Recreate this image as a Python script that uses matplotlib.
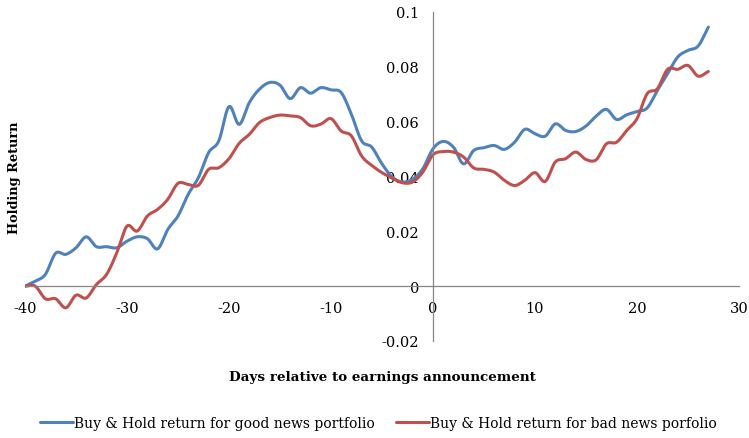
import numpy as np
import matplotlib
matplotlib.use("Agg")
import matplotlib.pyplot as plt

days = list(range(-40, 28))
good_news = [0.0, 0.0018, 0.0043, 0.012, 0.0116, 0.014, 0.018, 0.0144, 0.0144, 0.014,
             0.0164, 0.018, 0.0173, 0.0136, 0.0207, 0.0256, 0.0335, 0.0396, 0.0487, 0.053,
             0.0655, 0.059, 0.067, 0.0719, 0.0743, 0.0733, 0.0684, 0.0724, 0.0704, 0.0724,
             0.0716, 0.0706, 0.0627, 0.053, 0.0507, 0.0446, 0.0398, 0.038, 0.039, 0.0428,
             0.0501, 0.0528, 0.0507, 0.0446, 0.0495, 0.0505, 0.0513, 0.0499, 0.0525, 0.0572,
             0.0556, 0.0547, 0.0592, 0.0568, 0.0564, 0.0584, 0.062, 0.0645, 0.0608, 0.0625,
             0.0637, 0.065, 0.0714, 0.0775, 0.0836, 0.086, 0.0876, 0.0945]
bad_news = [0.0, 0.0, -0.0046, -0.0046, -0.0079, -0.0033, -0.0043, 0.0006, 0.0043, 0.0122,
            0.0219, 0.0201, 0.0256, 0.028, 0.0317, 0.0375, 0.0371, 0.0368, 0.0426, 0.0432,
            0.0465, 0.0521, 0.0554, 0.0597, 0.0615, 0.0624, 0.0621, 0.0615, 0.0585, 0.0591,
            0.0611, 0.0566, 0.0548, 0.0475, 0.044, 0.0414, 0.0394, 0.0377, 0.038, 0.0416,
            0.0479, 0.0491, 0.0489, 0.0471, 0.0431, 0.0426, 0.0416, 0.0386, 0.0367, 0.0386,
            0.0414, 0.0382, 0.0453, 0.0465, 0.0489, 0.0462, 0.0461, 0.0519, 0.0525, 0.0568,
            0.0611, 0.0702, 0.072, 0.0791, 0.0791, 0.0805, 0.0766, 0.0783]
x_ticks = [-40, -30, -20, -10, 0, 10, 20, 30]
y_ticks = [-0.02, 0, 0.02, 0.04, 0.06, 0.08, 0.1]
y_tick_labels = ["-0.02", "0", "0.02", "0.04", "0.06", "0.08", "0.1"]
series_names = ["Buy & Hold return for good news portfolio",
                "Buy & Hold return for bad news porfolio"]
colors = ["#4F81BD", "#C0504D"]


def smooth(x, y, n=12):
    """Catmull-Rom style smoothing (like Excel's smoothed lines)."""
    x = np.asarray(x, float)
    y = np.asarray(y, float)
    px = np.concatenate([[2 * x[0] - x[1]], x, [2 * x[-1] - x[-2]]])
    py = np.concatenate([[2 * y[0] - y[1]], y, [2 * y[-1] - y[-2]]])
    xs, ys = [], []
    t = np.linspace(0, 1, n, endpoint=False)
    for i in range(1, len(px) - 2):
        for (arr, out) in ((py, ys), (px, xs)):
            a0, a1, a2, a3 = arr[i - 1], arr[i], arr[i + 1], arr[i + 2]
            out.extend(0.5 * ((2 * a1) + (-a0 + a2) * t +
                              (2 * a0 - 5 * a1 + 4 * a2 - a3) * t ** 2 +
                              (-a0 + 3 * a1 - 3 * a2 + a3) * t ** 3))
    xs.append(x[-1])
    ys.append(y[-1])
    return np.array(xs), np.array(ys)


plt.rcParams['font.family'] = ['DejaVu Serif']
fig = plt.figure(figsize=(7.49, 4.39), dpi=100)
ax = fig.add_axes([0.0334, 0.221, 0.9532, 0.7494])

for vals, c, name in zip([good_news, bad_news], colors, series_names):
    sx, sy = smooth(days, vals)
    ax.plot(sx, sy, color=c, lw=2.2, label=name, solid_capstyle='round')

ax.set_xlim(-40, 30)
ax.set_ylim(-0.02, 0.1)
ax.spines['left'].set_position(('data', 0))
ax.spines['bottom'].set_position(('data', 0))
ax.spines['top'].set_visible(False)
ax.spines['right'].set_visible(False)
for s in ('left', 'bottom'):
    ax.spines[s].set_color('#868686')
    ax.spines[s].set_linewidth(0.9)
ax.set_xticks(x_ticks)
ax.set_xticklabels([str(v) for v in x_ticks])
ax.set_yticks(y_ticks)
ax.set_yticklabels(y_tick_labels)
ax.tick_params(axis='both', length=0, labelsize=10.5, colors='#000000')
ax.tick_params(axis='x', pad=11)
ax.tick_params(axis='y', pad=10)

fig.text(0.02, 0.595, "Holding Return", rotation=90, fontsize=9.3,
         fontweight='bold', ha='center', va='center')
fig.text(0.511, 0.139, "Days relative to earnings announcement", fontsize=9.7,
         fontweight='bold', ha='center', va='center')
fig.legend(loc='center', bbox_to_anchor=(0.505, 0.035), ncol=2, frameon=False,
           fontsize=10, handlelength=2.4, handletextpad=0.05, columnspacing=1.5)

fig.savefig("out.png", dpi=100)
